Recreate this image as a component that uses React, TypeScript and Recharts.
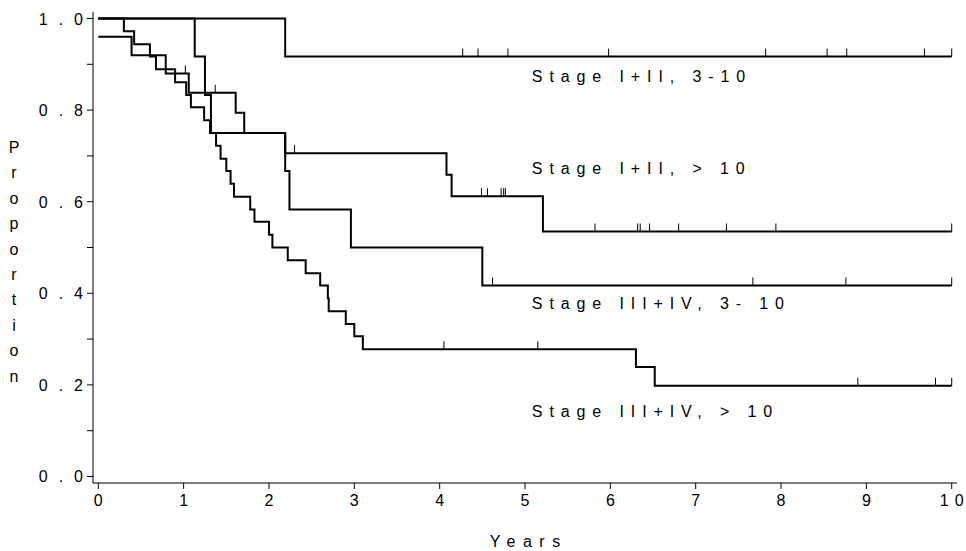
import React from 'react';
import { ComposedChart, Line, Scatter, XAxis, YAxis, ReferenceDot } from 'recharts';

const FONT = '"Liberation Sans", Arial, Helvetica, sans-serif';

// ---- axes ----
const xTicks = [0, 1, 2, 3, 4, 5, 6, 7, 8, 9, 10];
const yTicks = [0, 0.1, 0.2, 0.3, 0.4, 0.5, 0.6, 0.7, 0.8, 0.9, 1.0];
const yTickLabels = ['0.0', '', '0.2', '', '0.4', '', '0.6', '', '0.8', '', '1.0'];
const xTitle = 'Years';
const yTitle = 'Proportion';

// ---- Stage I+II, 3-10 ----
const aTimes = [0, 2.19, 10];
const aSurv = [1.0, 0.917, 0.917];
const aCensor = [4.27, 4.45, 4.8, 5.98, 7.82, 8.54, 8.77, 9.68, 10.0];

// ---- Stage I+II, > 10 ----
const bTimes = [0, 0.39, 0.79, 1.06, 1.61, 1.71, 2.19, 4.08, 4.14, 5.21, 10];
const bSurv = [0.96, 0.92, 0.88, 0.838, 0.794, 0.75, 0.706, 0.659, 0.612, 0.535, 0.535];
const bCensor = [1.02, 1.37, 2.3, 4.49, 4.56, 4.72, 4.75, 4.77, 5.82, 6.32, 6.35, 6.46, 6.8, 7.36, 7.94, 10.0];

// ---- Stage III+IV, 3-10 ----
const cTimes = [0, 1.13, 1.25, 1.32, 2.19, 2.24, 2.96, 4.5, 10];
const cSurv = [1.0, 0.917, 0.833, 0.75, 0.667, 0.583, 0.5, 0.417, 0.417];
const cCensor = [4.62, 7.67, 8.76, 10.0];

// ---- Stage III+IV, > 10 ----
const dTimes = [0, 0.3, 0.42, 0.605, 0.676, 0.9, 1.03, 1.085, 1.24, 1.31, 1.38, 1.433, 1.5, 1.55, 1.59, 1.78, 1.83, 2.0, 2.04, 2.22, 2.43, 2.6, 2.69, 2.7, 2.9, 3.0, 3.1, 6.3, 6.52, 10];
const dSurv = [1.0, 0.972, 0.944, 0.917, 0.889, 0.861, 0.833, 0.806, 0.778, 0.75, 0.722, 0.694, 0.667, 0.639, 0.611, 0.583, 0.556, 0.528, 0.5, 0.472, 0.444, 0.417, 0.389, 0.361, 0.333, 0.306, 0.278, 0.239, 0.198, 0.198];
const dCensor = [4.05, 5.15, 8.9, 9.81, 10.0];

// ---- curve labels ----
const labelTexts = ['Stage I+II, 3-10', 'Stage I+II, > 10', 'Stage III+IV, 3- 10', 'Stage III+IV, > 10'];
const labelX = [5.08, 5.08, 5.08, 5.08];
const labelY = [0.862, 0.66, 0.365, 0.129];

const toSteps = (times: number[], surv: number[]) => times.map((t, i) => ({ t, s: surv[i] }));
const levelAt = (times: number[], surv: number[], c: number) => {
  let v = surv[0];
  for (let i = 0; i < times.length; i++) if (times[i] <= c) v = surv[i];
  return v;
};
const toCensor = (times: number[], surv: number[], cs: number[]) => cs.map((c) => ({ t: c, s: levelAt(times, surv, c) }));

const series = [
  { steps: toSteps(aTimes, aSurv), cens: toCensor(aTimes, aSurv, aCensor) },
  { steps: toSteps(bTimes, bSurv), cens: toCensor(bTimes, bSurv, bCensor) },
  { steps: toSteps(cTimes, cSurv), cens: toCensor(cTimes, cSurv, cCensor) },
  { steps: toSteps(dTimes, dSurv), cens: toCensor(dTimes, dSurv, dCensor) },
];

// text with spacing between characters only (no trailing space)
const spaced = (txt: string, gap: number) =>
  txt.split('').map((ch, i) => (
    <tspan key={i} dx={i === 0 ? 0 : gap}>
      {ch === ' ' ? '\u00a0' : ch}
    </tspan>
  ));

const CensorTick = (props: any) => {
  const { cx, cy } = props;
  if (cx == null || cy == null) return null;
  return <line x1={cx} x2={cx} y1={cy} y2={cy - 8} stroke="#000" strokeWidth={1} />;
};

const YTick = (props: any) => {
  const { x, y, index } = props;
  const txt = yTickLabels[index];
  if (!txt) return null;
  return (
    <text x={x} y={y} dy={6} textAnchor="end" fontFamily={FONT} fontSize={16} fill="#000">
      {spaced(txt, 11)}
    </text>
  );
};

const XTick = (props: any) => {
  const { x, y, payload } = props;
  return (
    <text x={x} y={y} dy={12} textAnchor="middle" fontFamily={FONT} fontSize={16} fill="#000">
      {spaced(String(payload.value), 6)}
    </text>
  );
};

const XTitle = () => (
  <text x={525} y={547} textAnchor="middle" fontFamily={FONT} fontSize={16} fill="#000">
    {spaced(xTitle, 7.5)}
  </text>
);

const YTitle = () => (
  <text fontFamily={FONT} fontSize={16} fill="#000" textAnchor="middle">
    {yTitle.split('').map((ch, i) => (
      <tspan key={i} x={14} y={153 + i * 25.4}>
        {ch}
      </tspan>
    ))}
  </text>
);

const makeLabel = (txt: string) => (p: any) => {
  const vb = p.viewBox || {};
  return (
    <text x={vb.x} y={vb.y} fontFamily={FONT} fontSize={16} letterSpacing={6.9} fill="#000">
      {txt}
    </text>
  );
};

export default function App() {
  return (
    <div style={{ position: 'absolute', left: 0, top: 0, background: '#fff' }}>
      <ComposedChart width={966} height={551} margin={{ top: 12, right: 9, bottom: 0, left: 0 }}>
        <XAxis
          dataKey="t"
          type="number"
          domain={[-0.062, 10.062]}
          allowDataOverflow
          ticks={xTicks}
          tickSize={6}
          tickMargin={5}
          height={68}
          stroke="#000"
          tick={<XTick />}
          label={{ content: () => <XTitle /> }}
        />
        <YAxis
          dataKey="s"
          type="number"
          domain={[-0.0142, 1.0142]}
          allowDataOverflow
          ticks={yTicks}
          tickSize={6}
          tickMargin={4}
          width={93}
          stroke="#000"
          tick={<YTick />}
          label={{ content: () => <YTitle /> }}
        />
        {series.map((sr, i) => (
          <Line
            key={'l' + i}
            data={sr.steps}
            dataKey="s"
            type="stepAfter"
            stroke="#000"
            strokeWidth={2}
            dot={false}
            activeDot={false}
            isAnimationActive={false}
          />
        ))}
        {series.map((sr, i) => (
          <Scatter key={'c' + i} data={sr.cens} dataKey="s" shape={<CensorTick />} isAnimationActive={false} />
        ))}
        {labelTexts.map((txt, i) => (
          <ReferenceDot
            key={'r' + i}
            x={labelX[i]}
            y={labelY[i]}
            r={0}
            fill="none"
            stroke="none"
            label={{ content: makeLabel(txt) }}
          />
        ))}
      </ComposedChart>
    </div>
  );
}
